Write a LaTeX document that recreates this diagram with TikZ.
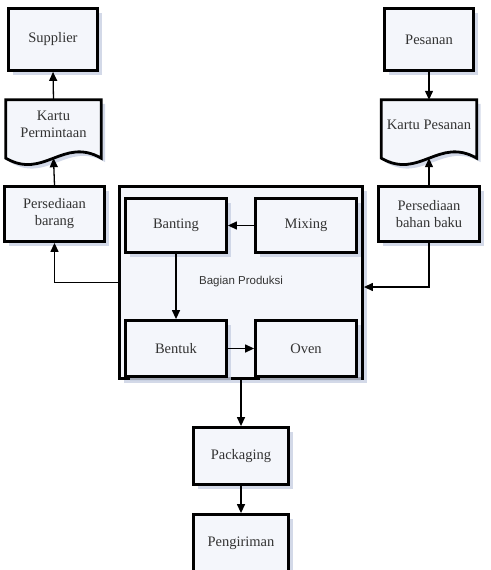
\documentclass[tikz,border=0pt]{standalone}
\usepackage{fontspec}
\setmainfont{Liberation Serif}
\setsansfont{Liberation Sans}
\usetikzlibrary{arrows.meta,shadows,calc}
\definecolor{boxfill}{RGB}{244,246,251}
\definecolor{shadowc}{RGB}{200,208,226}
\begin{document}
\begin{tikzpicture}[x=1pt,y=-1pt,
  shad/.style={drop shadow={shadow xshift=4pt,shadow yshift=-4pt,fill=shadowc,opacity=0.8}},
  procbox/.style={draw=black,line width=2.8pt,fill=boxfill,shad,inner sep=0pt,
    align=center,font=\fontsize{14.5}{17}\selectfont,text=black!80},
  docnode/.style={inner sep=0pt,align=center,font=\fontsize{14.5}{17}\selectfont,text=black!80},
  docline/.style={draw=black,line width=2.8pt,fill=boxfill,shad,line join=miter},
  conn/.style={line width=1.3pt,-{Triangle[length=9pt,width=8pt]}}]
\useasboundingbox (0,0) rectangle (490,570);
\clip (0,0) rectangle (490,570);
% big production box
\node[procbox,minimum width=243pt,minimum height=192pt] (big) at (241,282.5) {};
\node[font=\sffamily\fontsize{11.5}{13}\selectfont,text=black!80] (lbl) at (241,282) {Bagian Produksi};
% inner boxes
\node[procbox,minimum width=101pt,minimum height=54pt] (banting) at (176,225.5) {Banting};
\node[procbox,minimum width=101pt,minimum height=54pt] (mixing) at (306,225.5) {Mixing};
\node[procbox,minimum width=101pt,minimum height=56pt] (bentuk) at (176,348.5) {Bentuk};
\node[procbox,minimum width=101pt,minimum height=56pt] (oven) at (306,348.5) {Oven};
% left column
\node[procbox,minimum width=89pt,minimum height=62pt] (sup) at (53,39.5) {Supplier};
\node[docnode,minimum width=95pt,minimum height=58pt] (kp) at (53.5,129) {};
\draw[docline] (kp.north west) -- (kp.north east) -- (kp.south east)
  .. controls +(-38,-22) and +(38,22) .. (kp.south west) -- cycle;
\node[docnode,anchor=north] (kpt) at ([yshift=-11pt]kp.north) {Kartu\\Permintaan};
\node[procbox,minimum width=100pt,minimum height=55pt] (pb) at (54.5,214) {Persediaan\\barang};
% right column
\node[procbox,minimum width=89pt,minimum height=62pt] (pes) at (429,39.5) {Pesanan};
\node[docnode,minimum width=95pt,minimum height=58pt] (kps) at (429,129) {};
\draw[docline] (kps.north west) -- (kps.north east) -- (kps.south east)
  .. controls +(-38,-22) and +(38,22) .. (kps.south west) -- cycle;
\node[docnode] (kpst) at ([yshift=-25pt]kps.north) {Kartu Pesanan};
\node[procbox,minimum width=101pt,minimum height=55pt] (pbb) at (429,214) {Persediaan\\bahan baku};
% bottom
\node[procbox,minimum width=95pt,minimum height=57pt] (pack) at (241,456) {Packaging};
\node[procbox,minimum width=95pt,minimum height=64pt] (peng) at (241,546.5) {};
\node[docnode] (pengt) at (241,543) {Pengiriman};
% connectors
\draw[conn] (kp.north) -- (sup.south);
\draw[conn] (pb.north) -- (kp.south);
\draw[conn] (pes.south) -- (kps.north);
\draw[conn] (pbb.north) -- (kps.south);
\draw[conn] (mixing.west) -- (banting.east);
\draw[conn] (banting.south) -- (bentuk.north);
\draw[conn] (bentuk.east) -- (oven.west);
\draw[conn] (big.west) -| (pb.south);
\draw[conn] (pbb.south) |- ([yshift=-4.5pt]big.east);
\draw[conn] (big.south) -- (pack.north);
\draw[conn] (pack.south) -- (peng.north);
\end{tikzpicture}
\end{document}
